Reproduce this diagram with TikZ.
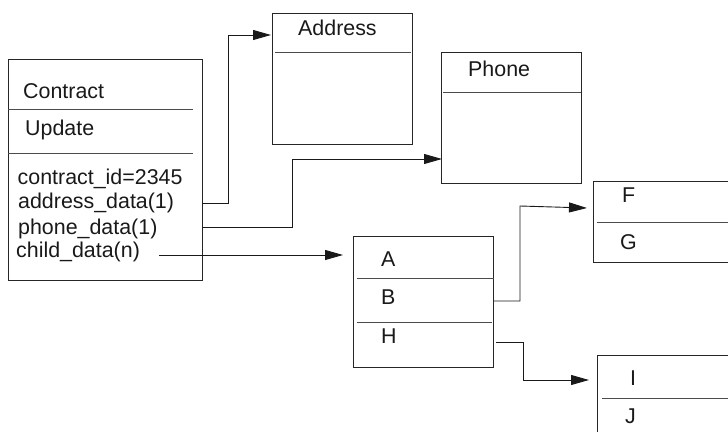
\documentclass[tikz,border=0pt]{standalone}
\usepackage{fontspec}
\setmainfont{Liberation Sans}
\usetikzlibrary{arrows.meta}
\begin{document}
\begin{tikzpicture}[x=1pt,y=-1pt,
  box/.style={draw=black!85,line width=0.9pt,inner sep=0pt,anchor=north west},
  sep/.style={draw=black!70,line width=0.9pt},
  lbl/.style={anchor=base west,inner sep=0pt,font=\fontsize{21.4}{25}\selectfont,text=black!90},
  conn/.style={draw=black!90,line width=0.9pt,-{Triangle[length=18pt,width=10pt]}}]
\useasboundingbox (0,0) rectangle (728,431);
\clip (0,0) rectangle (728,431);
% boxes
\node[box,minimum width=194pt,minimum height=221pt] (contract) at (8,59) {};
\node[box,minimum width=140pt,minimum height=131pt] (address) at (272,13) {};
\node[box,minimum width=140pt,minimum height=131pt] (phone) at (441,52) {};
\node[box,minimum width=140pt,minimum height=131pt] (abh) at (353,236) {};
\node[box,minimum width=160pt,minimum height=81pt] (fg) at (593,181) {};
\node[box,minimum width=160pt,minimum height=100pt] (ij) at (597,355) {};
% separators
\draw[sep] (8,109) -- (193,109);
\draw[sep] (8,153) -- (193,153);
\draw[sep] (275,52) -- (411,52);
\draw[sep] (443,92) -- (581,92);
\draw[sep] (357,278) -- (494,278);
\draw[sep] (357,322) -- (492,322);
\draw[sep] (597,222) -- (740,222);
\draw[sep] (602,398) -- (740,398);
% labels
\node[lbl] (tcontract) at (23,98) {Contract};
\node[lbl] (tupdate) at (25,135) {Update};
\node[lbl] (tid) at (17.5,184) {contract\_id=2345};
\node[lbl] (tad) at (18,208) {address\_data(1)};
\node[lbl] (tph) at (18,234) {phone\_data(1)};
\node[lbl] (tch) at (16,257) {child\_data(n)};
\node[lbl] (taddress) at (298,35) {Address};
\node[lbl] (tphone) at (468,76) {Phone};
\node[lbl] (ta) at (381,266) {A};
\node[lbl] (tb) at (381,304) {B};
\node[lbl] (th) at (381,343) {H};
\node[lbl] (tf) at (622,202) {F};
\node[lbl] (tg) at (620,249) {G};
\node[lbl] (ti) at (630,385) {I};
\node[lbl] (tj) at (625,423) {J};
% connector points
\coordinate (adOut) at (202,203);
\coordinate (adIn) at (271,35);
\coordinate (phOut) at (202,227);
\coordinate (phIn) at (442,159);
\coordinate (chOut) at (159,255);
\coordinate (chIn) at (343,255);
\coordinate (bOut) at (493,301);
\coordinate (fIn) at (587,208);
\coordinate (hOut) at (496,342);
\coordinate (iIn) at (589,380);
% connectors
\draw[conn] (adOut) -- (228,203) -- (228,35) -- (adIn);
\draw[conn] (phOut) -- (292,227) -- (292,159) -- (phIn);
\draw[conn] (chOut) -- (chIn);
\draw[conn] (bOut) -- (520,301) -- (520,206) -- (fIn);
\draw[conn] (hOut) -- (523,342) -- (523,380) -- (iIn);
\end{tikzpicture}
\end{document}
